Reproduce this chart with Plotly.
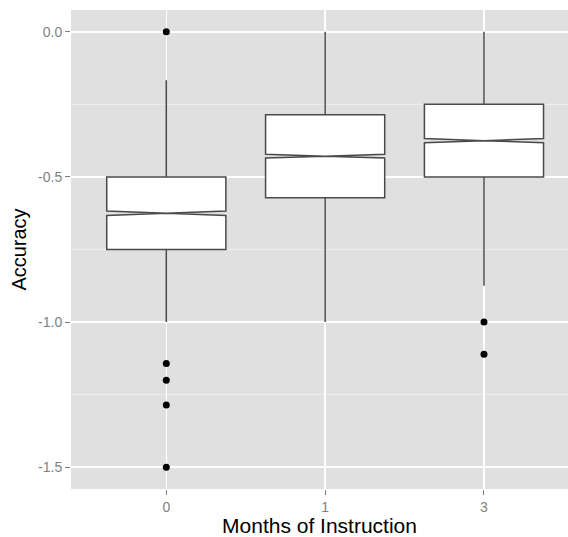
import plotly.graph_objects as go

categories = ["0", "1", "3"]
q1 = [-0.75, -0.5714, -0.5]
median = [-0.625, -0.4286, -0.375]
q3 = [-0.5, -0.2857, -0.25]
lower_whisker = [-1.0, -1.0, -0.875]
upper_whisker = [-0.1667, 0.0, 0.0]
notch_span = [0.0075, 0.0065, 0.0075]

outlier_cat = ["0", "0", "0", "0", "0", "3", "3"]
outlier_val = [0.0, -1.143, -1.2, -1.286, -1.5, -1.0, -1.111]

y_ticks = [0.0, -0.5, -1.0, -1.5]
y_tick_text = ["0.0", "-0.5", "-1.0", "-1.5"]

FONT = "Liberation Sans, Arial, sans-serif"

fig = go.Figure()
fig.add_trace(go.Box(
    x=categories, q1=q1, median=median, q3=q3,
    lowerfence=lower_whisker, upperfence=upper_whisker,
    notchspan=notch_span, notched=True, notchwidth=0.5,
    width=0.75, whiskerwidth=0,
    fillcolor="white",
    line=dict(color="#4a4a4a", width=1.5),
    boxpoints=False, showlegend=False, hoverinfo="skip",
))
fig.add_trace(go.Scatter(
    x=outlier_cat, y=outlier_val, mode="markers",
    marker=dict(color="black", size=7),
    showlegend=False, hoverinfo="skip",
))

fig.update_layout(
    width=568, height=537,
    margin=dict(l=71, r=0, t=10, b=48),
    paper_bgcolor="white",
    plot_bgcolor="#E0E0E0",
    font=dict(family=FONT),
)
fig.update_xaxes(
    type="category", categoryorder="array", categoryarray=categories,
    range=[-0.6, 2.529],
    showgrid=True, gridcolor="white", gridwidth=1.5,
    zeroline=False, showline=False,
    ticks="outside", ticklen=5, tickwidth=1, tickcolor="#7F7F7F",
    tickfont=dict(size=14, color="#7F7F7F", family=FONT),
    title=dict(text="Months of Instruction", font=dict(size=21, color="black", family=FONT), standoff=1),
)
fig.update_yaxes(
    range=[-1.575, 0.075],
    tickvals=y_ticks, ticktext=y_tick_text,
    showgrid=True, gridcolor="white", gridwidth=1.5,
    minor=dict(dtick=0.25, tick0=0, showgrid=True, gridcolor="#EDEDED", gridwidth=1, ticks=""),
    zeroline=False, showline=False,
    ticks="outside", ticklen=5, tickwidth=1, tickcolor="#7F7F7F",
    tickfont=dict(size=14, color="#7F7F7F", family=FONT),
    title=dict(text="Accuracy", font=dict(size=20, color="black", family=FONT), standoff=6),
)

fig.write_html(
    "out.html",
    config={"displayModeBar": False, "staticPlot": True},
    post_script="document.body.style.margin='0px';document.body.style.overflow='hidden';",
)
